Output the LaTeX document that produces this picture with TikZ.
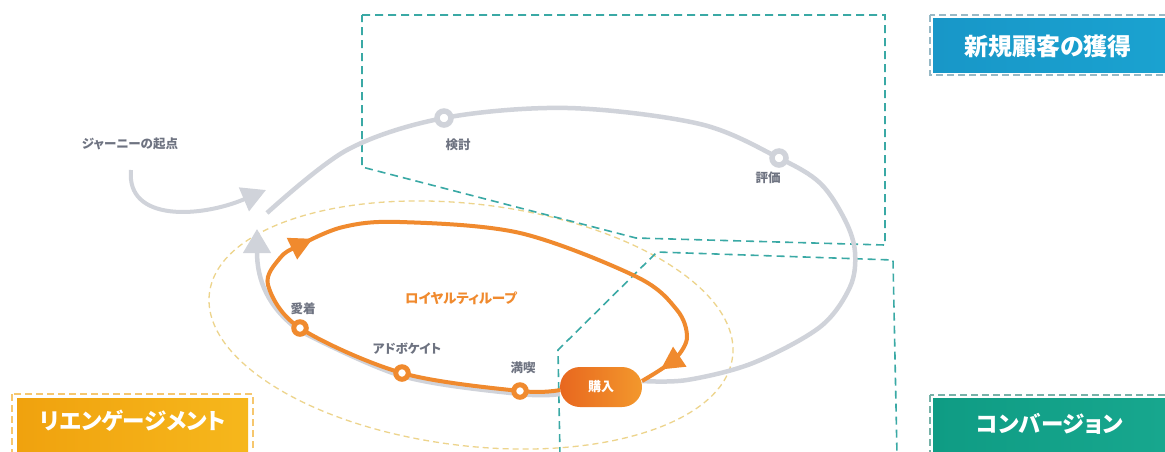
\documentclass[tikz,border=0pt]{standalone}
\usepackage{fontspec}
\newfontfamily\jp{Noto Sans CJK JP}[RawFeature=+palt]
\usetikzlibrary{arrows.meta,decorations.markings}
\definecolor{loopgray}{HTML}{D0D3DA}
\definecolor{orangeln}{HTML}{F08A2E}
\definecolor{tealdash}{HTML}{3AA9A5}
\definecolor{labgray}{HTML}{6E7381}
\definecolor{ydash}{HTML}{EDD48C}
\definecolor{bluebox}{HTML}{1897C8}
\definecolor{blueboxr}{HTML}{1AA2D0}
\definecolor{greenbox}{HTML}{0F9C84}
\definecolor{greenboxr}{HTML}{17A78E}
\definecolor{yelbox}{HTML}{F0A20E}
\definecolor{yelboxr}{HTML}{F6B71C}
\definecolor{pillL}{HTML}{E8671F}
\definecolor{pillR}{HTML}{F3982C}
\begin{document}
\begin{tikzpicture}[x=1pt,y=-1pt,
  grayline/.style={color=loopgray, line width=4.5pt},
  orangeline/.style={color=orangeln, line width=4pt},
  zone/.style={draw=tealdash, line width=1.6pt, dash pattern=on 8pt off 5pt},
  stagelabel/.style={text=labgray, font=\jp\bfseries\fontsize{12.5}{14}\selectfont, inner sep=0pt},
  graystage/.style={circle, draw=loopgray, fill=white, line width=5.5pt, minimum size=14pt, inner sep=0pt},
  orstage/.style={circle, draw=orangeln, fill=white, line width=5pt, minimum size=12.5pt, inner sep=0pt},
  boxtext/.style={text=white, font=\jp\bfseries\fontsize{24}{28}\selectfont, inner sep=0pt},
  kanabox/.style={boxtext, font=\jp\bfseries\fontsize{22.5}{26}\selectfont},
  boxline/.style={line width=1.3pt, dash pattern=on 7pt off 4pt},
  pill/.style={rounded corners=20pt, minimum width=82pt, minimum height=40pt, left color=pillL, right color=pillR, draw=none, text=white, font=\jp\bfseries\fontsize{13}{15}\selectfont, inner sep=0pt}
]
\useasboundingbox[fill=white] (0,0) rectangle (1165,451);

% zones
\draw[ydash, line width=1.3pt, dash pattern=on 6pt off 4pt, rotate around={-6.9:(471,325)}] (471,325) ellipse [x radius=263.5, y radius=120.8];
\draw[zone] (362,15) -- (885,15) -- (885,245) -- (636,238) -- (362,167) -- cycle;
\draw[zone] (560,455) -- (558,350) -- (657,252) -- (893,260) -- (897,455);

% label boxes
\draw[boxline, draw=bluebox!45!gray!60] (930,15) rectangle (1175,75);
\shade[left color=bluebox, right color=blueboxr] (933,18) rectangle (1165,72);
\node[boxtext] (newcust) at (1048,46) {新規顧客の獲得};

\draw[boxline, draw=greenbox!60!gray!70] (930,395) rectangle (1175,460);
\shade[left color=greenbox, right color=greenboxr] (933,398) rectangle (1165,451);
\node[kanabox] (conv) at (1050,424) {コンバージョン};

\draw[boxline, draw=yelbox!60!white] (12,394) rectangle (253,460);
\shade[left color=yelbox, right color=yelboxr] (17,398) rectangle (248,451);
\node[kanabox] (reeng) at (133,421) {リエンゲージメント};

% coordinates
\coordinate (bW) at (560,390);
\coordinate (bE) at (642,381);
\coordinate (pA) at (300,328);
\coordinate (pB) at (402,373);
\coordinate (pC) at (520,391);
\coordinate (pK) at (444,118);
\coordinate (pH) at (779,158);
\coordinate (gStart) at (267,213);
\coordinate (gTip) at (257,229);
\coordinate (jStart) at (131,170);
\coordinate (jTip) at (266,190);

% journey start
\node[stagelabel] (jlabel) at (130,144) {ジャーニーの起点};
\draw[grayline, line width=4pt, -{Triangle[length=24pt,width=25pt]}] (jStart) .. controls (126,222) and (200,218) .. (jTip);

% gray big loop
\draw[grayline] plot[smooth, tension=0.55] coordinates {(gStart) (347,150) (pK) (568,108) (700,124) (pH) (820,183) (845,220) (855,252) (850,287) (820,327) (753,363) (687,380) (bE)};
% gray lower part (mostly under orange)
\draw[grayline] plot[smooth, tension=0.55] coordinates {(560,394) (520,394) (402,376) (300,331)};
\draw[grayline, -{Triangle[length=24pt,width=27pt]}] (300,331) .. controls (268,308) and (257,280) .. (gTip);

% orange loyalty loop
\draw[orangeline, postaction={decorate},
  decoration={markings,
    mark=at position 0.45 with {\arrow{Triangle[length=23pt,width=23pt]}},
    mark=at position 0.975 with {\arrow{Triangle[length=23pt,width=23pt]}}}]
  plot[smooth, tension=0.55] coordinates {(bW) (pC) (pB) (pA) (268,285) (280,258) (298,246) (343,227) (400,222) (520,233) (637,277) (677,310) (687,337) (677,357) (660,370) (bE)};

% stage markers
\node[graystage] (kentou) at (pK) {};
\node[graystage] (hyouka) at (pH) {};
\node[stagelabel] (kentouL) at (458,145) {検討};
\node[stagelabel] (hyoukaL) at (768,178) {評価};

\node[orstage] (aichaku) at (pA) {};
\node[orstage] (advocate) at (pB) {};
\node[orstage] (mankitsu) at (pC) {};
\node[stagelabel] (aichakuL) at (303,309) {愛着};
\node[stagelabel] (advocateL) at (407,349) {アドボケイト};
\node[stagelabel] (mankitsuL) at (523,368) {満喫};
\node[stagelabel, text=orangeln, font=\jp\bfseries\fontsize{13.5}{15}\selectfont] (loyalty) at (461,298) {ロイヤルティループ};

\node[pill] (buy) at (601,387) {購入};
\end{tikzpicture}
\end{document}
